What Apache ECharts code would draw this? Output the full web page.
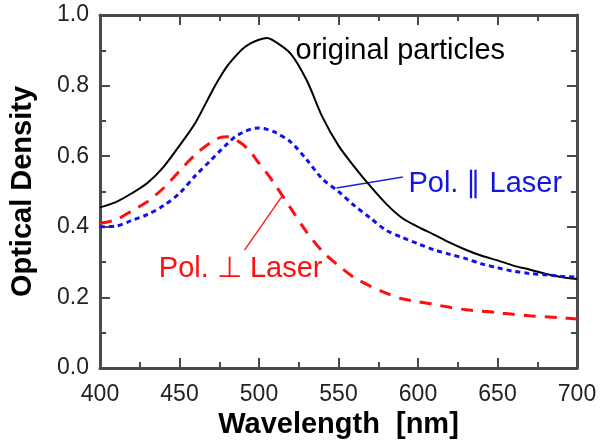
<!DOCTYPE html>
<html>
<head>
<meta charset="utf-8">
<script src="https://cdn.jsdelivr.net/npm/echarts@6/dist/echarts.min.js"></script>
<style>html,body{margin:0;padding:0;background:#fff}#c{width:600px;height:447px}</style>
</head>
<body>
<div id="c"></div>
<script>
// Wavelength (nm)
const wavelengths = [400,410,420,430,440,450,460,470,475,480,485,490,495,500,505,510,520,530,540,550,560,570,580,590,600,610,620,630,640,650,660,670,680,690,700];
// Optical density: original particles
const originalOD = [0.455,0.47,0.495,0.525,0.57,0.63,0.695,0.78,0.82,0.855,0.882,0.905,0.92,0.93,0.935,0.925,0.89,0.815,0.71,0.63,0.57,0.515,0.465,0.425,0.40,0.378,0.355,0.335,0.318,0.305,0.29,0.279,0.267,0.258,0.252];
// Pol. parallel laser
const parallelOD = [0.40,0.402,0.418,0.435,0.46,0.495,0.545,0.59,0.613,0.635,0.655,0.668,0.677,0.68,0.676,0.668,0.64,0.59,0.535,0.5,0.46,0.425,0.39,0.37,0.352,0.335,0.322,0.31,0.295,0.284,0.274,0.268,0.264,0.26,0.257];
// Pol. perpendicular laser
const perpOD = [0.41,0.42,0.445,0.472,0.51,0.558,0.605,0.64,0.652,0.655,0.647,0.633,0.61,0.58,0.552,0.52,0.452,0.385,0.33,0.29,0.256,0.232,0.212,0.196,0.188,0.18,0.172,0.165,0.161,0.157,0.152,0.148,0.145,0.142,0.139];

const xTicks = [400,450,500,550,600,650,700];
const yTicks = [0.0,0.2,0.4,0.6,0.8,1.0];

// annotation anchors (top-left of text) in data units
const labelOriginal = {text:'original particles', at:[523,0.9405]};
const labelParallel = {text:'Pol. \u2225 Laser', at:[594,0.561]};
const labelPerp = {text:'Pol. \u22A5 Laser', at:[437,0.322]};
const leaderParallel = [[548.8,0.51],[590.4,0.541]];
const leaderPerp = [[490.9,0.334],[514.5,0.487]];

const pairs = (ys) => wavelengths.map((x,i)=>[x,ys[i]]);
const FONT = 'Liberation Sans, Arial, sans-serif';
const frame = {lineStyle:{color:'#4a4a4a',width:3}};
const tickCol = '#4a4a4a';

const chart = echarts.init(document.getElementById('c'));
const axisBaseX = {
  type:'value', min:400, max:700, interval:50,
  axisLine:{show:true, onZero:false, ...frame},
  axisTick:{show:true, inside:true, length:10, lineStyle:{color:tickCol,width:2}},
  minorTick:{show:true, splitNumber:2, length:6, lineStyle:{color:tickCol,width:2}},
  splitLine:{show:false}
};
const axisBaseY = {
  type:'value', min:0, max:1, interval:0.2,
  axisLine:{show:true, onZero:false, ...frame},
  axisTick:{show:true, inside:true, length:10, lineStyle:{color:tickCol,width:2}},
  minorTick:{show:true, splitNumber:2, length:6, lineStyle:{color:tickCol,width:2}},
  splitLine:{show:false}
};
chart.setOption({
  animation:false,
  grid:{left:94,right:23,top:15,bottom:79},
  xAxis:[
    {...axisBaseX, position:'bottom',
      axisLabel:{show:true, margin:15, fontSize:23, color:'#222', fontFamily:FONT,
        formatter:(v)=> xTicks.includes(v) ? String(v) : ''},
      name:'Wavelength  [nm]', nameLocation:'middle', nameGap:27,
      nameTextStyle:{fontSize:29, fontWeight:'bold', color:'#000', fontFamily:FONT}},
    {...axisBaseX, position:'top', axisLabel:{show:false}}
  ],
  yAxis:[
    {...axisBaseY, position:'left',
      axisLabel:{show:true, margin:11, fontSize:23, color:'#222', fontFamily:FONT,
        formatter:(v)=> yTicks.some(t=>Math.abs(t-v)<1e-9) ? v.toFixed(1) : ''},
      name:'Optical Density', nameLocation:'middle', nameGap:63,
      nameTextStyle:{fontSize:29, fontWeight:'bold', color:'#000', fontFamily:FONT}},
    {...axisBaseY, position:'right', axisLabel:{show:false}}
  ],
  series:[
    {name:'original particles', type:'line', data:pairs(originalOD), showSymbol:false, smooth:0.3,
      lineStyle:{color:'#000', width:2}},
    {name:'Pol. parallel', type:'line', data:pairs(parallelOD), showSymbol:false, smooth:0.3,
      lineStyle:{color:'#1010f0', width:3, type:[5,4]}},
    {name:'Pol. perpendicular', type:'line', data:pairs(perpOD), showSymbol:false, smooth:0.3,
      lineStyle:{color:'#ff1010', width:3, type:[12,9]}}
  ]
});

function px(p){ return chart.convertToPixel({xAxisIndex:0,yAxisIndex:0}, p); }
const g = [];
[[labelOriginal,'#000'],[labelParallel,'#1515e0'],[labelPerp,'#ff1010']].forEach(([l,c])=>{
  const p = px(l.at);
  g.push({type:'text', x:p[0], y:p[1], style:{text:l.text, fill:c, font:'29px '+FONT, verticalAlign:'top', align:'left'}});
});
[[leaderParallel,'#2020e0'],[leaderPerp,'#ff2020']].forEach(([pts,c])=>{
  const a = px(pts[0]), b = px(pts[1]);
  g.push({type:'line', shape:{x1:a[0],y1:a[1],x2:b[0],y2:b[1]}, style:{stroke:c, lineWidth:1.5}});
});
chart.setOption({graphic:g});
</script>
</body>
</html>
